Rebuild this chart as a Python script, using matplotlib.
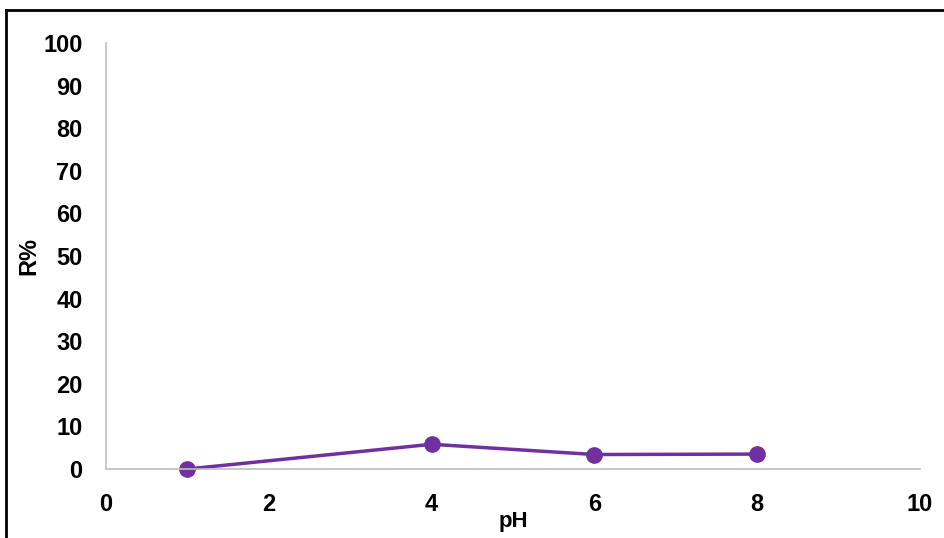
import matplotlib.pyplot as plt
from matplotlib.lines import Line2D

ph = [1, 4, 6, 8]
r_pct = [0, 5.8, 3.4, 3.5]
x_ticks = [0, 2, 4, 6, 8, 10]
y_ticks = [0, 10, 20, 30, 40, 50, 60, 70, 80, 90, 100]

plt.rcParams['font.family'] = ['Liberation Sans', 'DejaVu Sans']
plt.rcParams['font.weight'] = 'bold'

fig = plt.figure(figsize=(9.45, 5.38), dpi=100)
ax = fig.add_axes([106/945, 1-469/538, (920-106)/945, (469-43)/538])

ax.plot(ph, r_pct, color='#7030A0', lw=2.5, marker='o', markersize=11, clip_on=False)

ax.set_xlim(0, 10)
ax.set_ylim(0, 100)
ax.set_xticks(x_ticks)
ax.set_yticks(y_ticks)
ax.tick_params(length=0, labelsize=17)
ax.tick_params(axis='x', pad=17)
ax.tick_params(axis='y', pad=17)
for s in ['top', 'right']:
    ax.spines[s].set_visible(False)
for s in ['left', 'bottom']:
    ax.spines[s].set_color('#BFBFBF')
    ax.spines[s].set_linewidth(1.2)

ax.set_xlabel('pH', fontsize=16, fontweight='bold', labelpad=-3)
ax.set_ylabel('R%', fontsize=17, fontweight='bold', labelpad=2)

# outer frame (partially visible)
fig.add_artist(Line2D([6/945, 6/945], [0, 1-10/538], color='black', lw=2, transform=fig.transFigure))
fig.add_artist(Line2D([6/945, 1], [1-10/538, 1-10/538], color='black', lw=2, transform=fig.transFigure))

fig.savefig('out.png', dpi=100)
